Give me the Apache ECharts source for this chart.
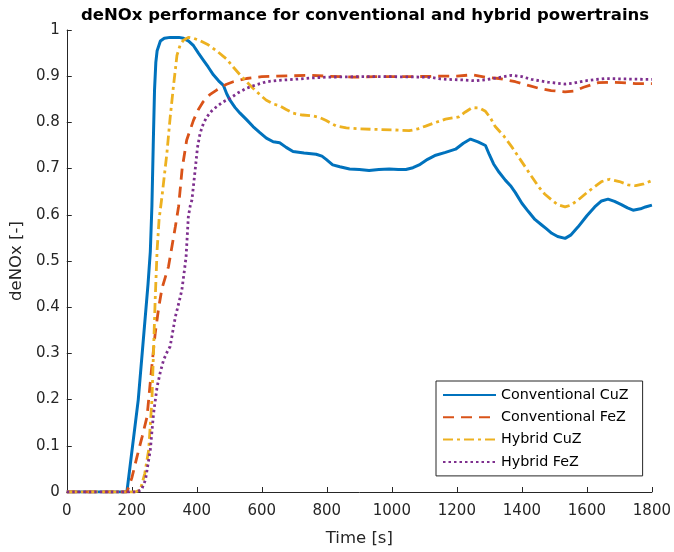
<!DOCTYPE html>
<html>
<head>
<meta charset="utf-8">
<script src="https://cdn.jsdelivr.net/npm/echarts@6/dist/echarts.min.js"></script>
<style>html,body{margin:0;padding:0;background:#fff}#c{width:674px;height:552px}</style>
</head>
<body>
<div id="c"></div>
<script>
const seriesNames = ['Conventional CuZ', 'Conventional FeZ', 'Hybrid CuZ', 'Hybrid FeZ'];
const xTicks = [0, 200, 400, 600, 800, 1000, 1200, 1400, 1600, 1800];
const yTicks = [0, 0.1, 0.2, 0.3, 0.4, 0.5, 0.6, 0.7, 0.8, 0.9, 1];

const convCuZ = [[0,0],[185,0],[190,0.003],[220,0.2],[250,0.45],[257,0.52],[262,0.62],[266,0.75],[270,0.87],[274,0.93],[278,0.955],[288,0.976],[300,0.982],[318,0.984],[345,0.984],[359,0.982],[375,0.976],[390,0.966],[405,0.95],[420,0.935],[435,0.92],[451,0.903],[467,0.89],[482,0.88],[492,0.862],[502,0.848],[518,0.832],[533,0.82],[553,0.806],[573,0.791],[594,0.778],[614,0.766],[635,0.758],[655,0.756],[675,0.746],[696,0.737],[730,0.734],[767,0.731],[785,0.727],[798,0.72],[818,0.708],[840,0.704],[870,0.699],[900,0.698],[930,0.696],[960,0.698],[992,0.699],[1020,0.698],[1043,0.698],[1065,0.702],[1084,0.708],[1110,0.72],[1135,0.729],[1165,0.735],[1196,0.742],[1220,0.755],[1242,0.764],[1265,0.758],[1288,0.75],[1300,0.73],[1313,0.71],[1330,0.692],[1349,0.675],[1365,0.663],[1380,0.648],[1400,0.625],[1420,0.607],[1440,0.59],[1461,0.578],[1475,0.57],[1492,0.56],[1510,0.553],[1533,0.549],[1550,0.556],[1573,0.574],[1600,0.598],[1624,0.617],[1645,0.63],[1665,0.634],[1685,0.629],[1706,0.622],[1725,0.615],[1742,0.61],[1765,0.613],[1780,0.617],[1800,0.621]];
const convFeZ = [[0,0],[185,0],[200,0.03],[216,0.076],[232,0.12],[247,0.163],[260,0.26],[272,0.343],[283,0.4],[293,0.441],[313,0.488],[334,0.574],[344,0.618],[355,0.7],[369,0.762],[390,0.805],[405,0.828],[420,0.845],[440,0.86],[461,0.87],[490,0.882],[512,0.888],[553,0.895],[600,0.899],[645,0.9],[700,0.901],[747,0.902],[800,0.9],[880,0.898],[950,0.899],[1050,0.899],[1150,0.9],[1200,0.9],[1247,0.903],[1288,0.898],[1330,0.895],[1380,0.888],[1420,0.88],[1451,0.874],[1490,0.869],[1533,0.866],[1560,0.868],[1590,0.876],[1635,0.886],[1670,0.887],[1706,0.886],[1750,0.884],[1800,0.884]];
const hybCuZ = [[0,0],[210,0],[226,0.004],[240,0.04],[252,0.091],[262,0.199],[267,0.307],[272,0.416],[278,0.524],[284,0.59],[293,0.64],[308,0.733],[318,0.81],[328,0.877],[339,0.945],[349,0.968],[359,0.978],[374,0.984],[390,0.982],[410,0.977],[435,0.968],[461,0.955],[492,0.937],[512,0.92],[533,0.903],[553,0.888],[573,0.874],[594,0.86],[614,0.848],[635,0.84],[655,0.836],[675,0.828],[696,0.82],[725,0.816],[757,0.814],[780,0.81],[798,0.804],[829,0.792],[860,0.788],[900,0.786],[941,0.785],[1000,0.784],[1053,0.782],[1080,0.786],[1104,0.792],[1135,0.8],[1165,0.807],[1206,0.812],[1225,0.822],[1247,0.832],[1270,0.831],[1288,0.824],[1303,0.81],[1318,0.791],[1345,0.77],[1369,0.747],[1390,0.725],[1410,0.704],[1430,0.683],[1451,0.661],[1470,0.645],[1492,0.632],[1510,0.622],[1533,0.617],[1550,0.621],[1573,0.632],[1600,0.648],[1624,0.661],[1645,0.672],[1670,0.677],[1700,0.672],[1726,0.665],[1750,0.663],[1775,0.667],[1800,0.674]];
const hybFeZ = [[0,0],[215,0],[230,0.005],[242,0.026],[257,0.091],[267,0.17],[278,0.228],[288,0.26],[298,0.286],[310,0.305],[318,0.315],[334,0.379],[345,0.41],[354,0.437],[362,0.48],[367,0.509],[374,0.596],[380,0.62],[385,0.632],[395,0.697],[402,0.745],[410,0.776],[420,0.797],[431,0.812],[446,0.825],[461,0.834],[480,0.844],[502,0.852],[527,0.864],[553,0.874],[585,0.882],[614,0.888],[650,0.891],[696,0.893],[750,0.896],[798,0.898],[900,0.899],[1000,0.899],[1100,0.898],[1124,0.897],[1150,0.894],[1175,0.893],[1215,0.892],[1257,0.89],[1295,0.893],[1328,0.897],[1369,0.902],[1400,0.899],[1430,0.893],[1480,0.887],[1533,0.883],[1560,0.885],[1594,0.89],[1655,0.895],[1720,0.894],[1788,0.893],[1800,0.893]];

const FONT = 'DejaVu Sans';
const AX = '#262626';
const chart = echarts.init(document.getElementById('c'), null, {renderer: 'canvas'});

function mk(name, data, color, type, width) {
  return {
    name: name, type: 'line', data: data, symbol: 'none', showSymbol: false,
    smooth: false, animation: false,
    lineStyle: {color: color, width: width, type: type, cap: 'butt'},
    itemStyle: {color: color}
  };
}

chart.setOption({
  animation: false,
  backgroundColor: '#fff',
  title: {
    text: 'deNOx performance for conventional and hybrid powertrains',
    left: 76, top: 2,
    textStyle: {fontFamily: FONT, fontSize: 16.5, fontWeight: 'bold', color: '#000'}
  },
  grid: {left: 66, right: 20, top: 30, bottom: 60, containLabel: false},
  xAxis: {
    type: 'value', min: xTicks[0], max: xTicks[xTicks.length - 1], interval: 200,
    name: 'Time [s]', nameLocation: 'middle', nameGap: 38,
    nameTextStyle: {fontFamily: FONT, fontSize: 16.5, color: AX},
    axisLine: {lineStyle: {color: AX, width: 1}},
    axisTick: {inside: true, length: 5, lineStyle: {color: AX}},
    axisLabel: {fontFamily: FONT, fontSize: 15, color: AX, margin: 12,
      formatter: v => String(v)},
    splitLine: {show: false}
  },
  yAxis: {
    type: 'value', min: yTicks[0], max: yTicks[yTicks.length - 1], interval: 0.1,
    name: 'deNOx [-]', nameLocation: 'middle', nameGap: 40,
    nameTextStyle: {fontFamily: FONT, fontSize: 16.5, color: AX},
    axisLine: {show: true, lineStyle: {color: AX, width: 1}},
    axisTick: {show: true, inside: true, length: 5, lineStyle: {color: AX}},
    axisLabel: {fontFamily: FONT, fontSize: 15, color: AX, margin: 7,
      formatter: v => String(+v.toFixed(1))},
    splitLine: {show: false}
  },
  legend: {
    data: seriesNames, orient: 'vertical', left: 436, top: 381,
    itemWidth: 53, itemHeight: 14, itemGap: 8.3,
    padding: [7, 14, 7, 6],
    borderColor: AX, borderWidth: 1, backgroundColor: '#fff',
    itemStyle: {opacity: 0},
    textStyle: {fontFamily: FONT, fontSize: 14.3, color: '#000'}
  },
  series: [
    mk(seriesNames[0], convCuZ, '#0072BD', 'solid', 3),
    mk(seriesNames[1], convFeZ, '#D95319', [11, 7], 2.8),
    mk(seriesNames[2], hybCuZ, '#EDB120', [10, 4, 3, 4], 2.8),
    mk(seriesNames[3], hybFeZ, '#7E2F8E', [2.5, 3], 2.8)
  ]
});
</script>
</body>
</html>
